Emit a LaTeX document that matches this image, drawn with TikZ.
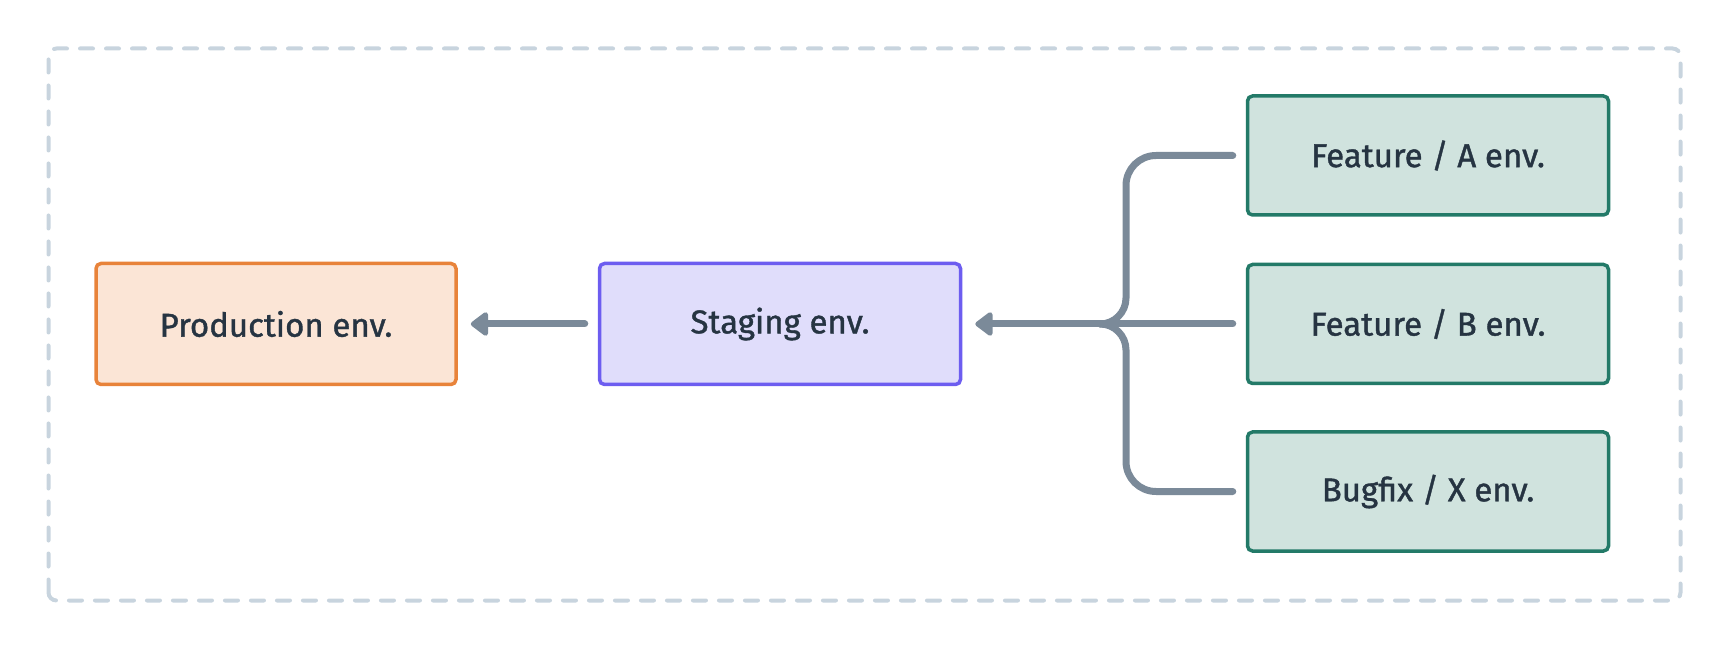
\documentclass[tikz,border=0pt]{standalone}
\usepackage{fontspec}
\setmainfont{Fira Sans}[FakeBold=1.2]
\usetikzlibrary{arrows.meta}
\definecolor{txt}{HTML}{263442}
\definecolor{frameC}{HTML}{C8D4DE}
\definecolor{lineC}{HTML}{7B8A99}
\definecolor{prodB}{HTML}{E8833A}
\definecolor{prodF}{HTML}{FBE5D6}
\definecolor{stagB}{HTML}{6D5DF0}
\definecolor{stagF}{HTML}{E0DDFB}
\definecolor{featB}{HTML}{237A68}
\definecolor{featF}{HTML}{D0E3DE}
\tikzset{
  envbox/.style={draw, line width=3.5pt, rounded corners=5pt, minimum height=121pt,
    text=txt, font=\fontsize{33}{38}\selectfont, inner sep=0pt},
  prodbox/.style={envbox, draw=prodB, fill=prodF, minimum width=360pt},
  stagbox/.style={envbox, draw=stagB, fill=stagF, minimum width=361pt},
  featbox/.style={envbox, draw=featB, fill=featF, minimum width=361pt, minimum height=119pt},
  conn/.style={draw=lineC, line width=7pt, line cap=round, line join=round},
  arr/.style={conn, -{Triangle[round, length=19pt, width=27pt]}, shorten >=13pt, shorten <=13pt},
  framebox/.style={draw=frameC, line width=4pt, dash pattern=on 13pt off 13pt, rounded corners=8pt, line cap=round}
}
\begin{document}
\begin{tikzpicture}[x=1pt,y=1pt]
\useasboundingbox (0,0) rectangle (1728,648);
\draw[framebox] (48.5,47.5) rectangle (1680.5,599.5);
\node[prodbox] (P) at (276,324) {Production env.};
\node[stagbox] (S) at (780,324) {Staging env.};
\node[featbox] (A) at (1428,492.5) {Feature / A env.};
\node[featbox] (B) at (1428,324) {Feature / B env.};
\node[featbox] (X) at (1428,156.5) {Bugfix / X env.};
\coordinate (J) at (1100,324);
\draw[arr] (S.west) -- (P.east);
\draw[arr] (B.west) -- (S.east);
\draw[conn] ([xshift=-13pt]A.west) -- (1156,492.5) arc (90:180:30) -- (1126,350) arc (0:-90:26) -- (J);
\draw[conn] ([xshift=-13pt]X.west) -- (1156,156.5) arc (-90:-180:30) -- (1126,298) arc (0:90:26) -- (J);
\end{tikzpicture}
\end{document}
